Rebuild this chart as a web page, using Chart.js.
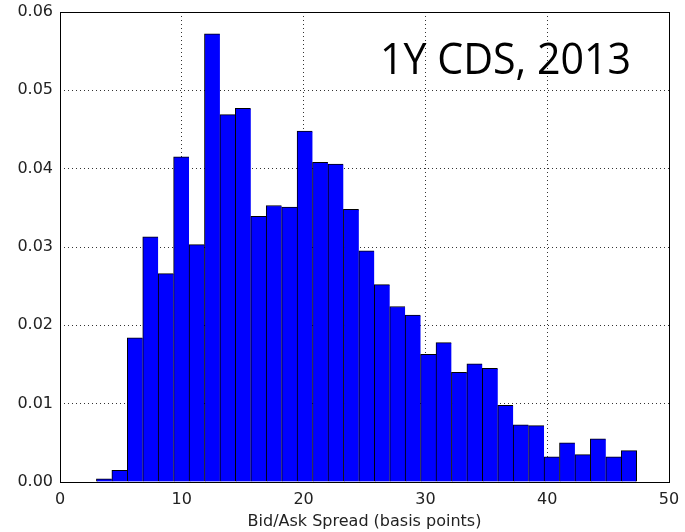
<!DOCTYPE html>
<html>
<head>
<meta charset="utf-8">
<script src="https://cdn.jsdelivr.net/npm/chart.js@4.4.0/dist/chart.umd.min.js"></script>
<style>
  html, body { margin: 0; padding: 0; background: #fff; }
  #wrap { width: 685px; height: 532px; position: relative; }
</style>
</head>
<body>
<div id="wrap"><canvas id="c" width="685" height="532"></canvas></div>
<script>
// Histogram bins (bid/ask spread, basis points)
const binStart = 2.99;
const binWidth = 1.2673;
// Normalized frequency per bin
const densities = [
  0.0004, 0.0015, 0.0184, 0.0313, 0.0266, 0.0415, 0.0303, 0.0572, 0.0469, 0.0477,
  0.0339, 0.0353, 0.0351, 0.0448, 0.0408, 0.0406, 0.0348, 0.0295, 0.0252, 0.0224,
  0.0213, 0.0163, 0.0178, 0.0140, 0.0151, 0.0145, 0.0098, 0.0073, 0.0072, 0.0032,
  0.0050, 0.0035, 0.0055, 0.0032, 0.0040
];
const xTicks = [0, 10, 20, 30, 40, 50];
const yTicks = [0.00, 0.01, 0.02, 0.03, 0.04, 0.05, 0.06];
const xTitle = 'Bid/Ask Spread (basis points)';
const annotation = '1Y CDS, 2013';

const points = densities.map((v, i) => ({ x: binStart + binWidth * (i + 0.5), y: v }));
const last = densities.length - 1;

const frame = {
  id: 'frame',
  afterDraw(chart) {
    const { ctx, chartArea: a } = chart;
    ctx.save();
    ctx.strokeStyle = '#000';
    ctx.lineWidth = 1;
    ctx.strokeRect(Math.round(a.left) + 0.5, Math.round(a.top) + 0.5,
                   Math.round(a.right - a.left), Math.round(a.bottom - a.top));
    // annotation text
    ctx.font = '44px "Open Sans"';
    ctx.fillStyle = '#000';
    ctx.textBaseline = 'alphabetic';
    const w = ctx.measureText(annotation).width;
    const target = 251;
    const x0 = 380, y0 = 74;
    ctx.translate(x0, y0);
    ctx.scale(target / w, 1);
    ctx.fillText(annotation, 0, 0);
    ctx.restore();
  }
};

const font = { family: '"DejaVu Sans", sans-serif', size: 16 };

new Chart(document.getElementById('c'), {
  type: 'bar',
  data: {
    datasets: [{
      data: points,
      backgroundColor: '#0000ff',
      borderColor: '#000',
      borderWidth: (c) => ({ top: 1, left: 1, bottom: 0, right: c.dataIndex === last ? 1 : 0 }),
      borderSkipped: false,
      barPercentage: 1,
      categoryPercentage: 1,
      grouped: false
    }]
  },
  options: {
    responsive: false,
    animation: false,
    events: [],
    layout: { padding: { top: 12, right: 16, left: 0, bottom: 0 } },
    plugins: { legend: { display: false }, tooltip: { enabled: false }, title: { display: false } },
    scales: {
      x: {
        type: 'linear',
        min: 0, max: 50,
        offset: false,
        z: 1,
        afterFit(s) { s.height = 50; s.paddingLeft = 0; s.paddingRight = 0; },
        afterBuildTicks(s) { s.ticks = xTicks.map(v => ({ value: v })); },
        ticks: { font, color: '#222', padding: 8, maxRotation: 0, autoSkip: false },
        grid: { offset: false, color: 'rgba(0,0,0,0.8)', lineWidth: 1, drawTicks: false },
        border: { display: false, dash: [1, 3] },
        title: { display: true, text: xTitle, font, color: '#222', padding: { top: 0, bottom: 1 } }
      },
      y: {
        type: 'linear',
        min: 0, max: 0.06,
        z: 1,
        afterFit(s) { s.width = 60; s.paddingTop = 0; s.paddingBottom = 0; },
        afterBuildTicks(s) { s.ticks = yTicks.map(v => ({ value: v })); },
        ticks: { font, color: '#222', padding: 7, callback: (v) => Number(v).toFixed(2) },
        grid: { color: 'rgba(0,0,0,0.8)', lineWidth: 1, drawTicks: false },
        border: { display: false, dash: [1, 3] }
      }
    }
  },
  plugins: [frame]
});
</script>
</body>
</html>
